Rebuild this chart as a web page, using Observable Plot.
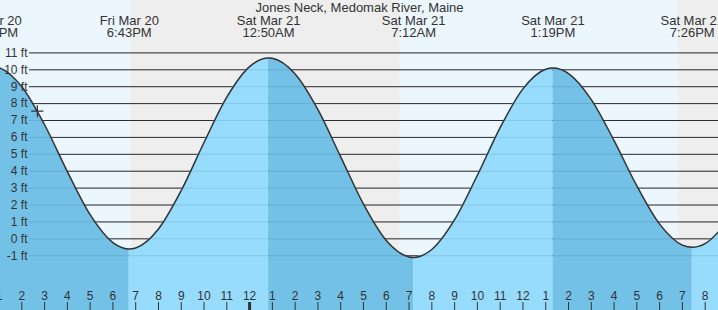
<!DOCTYPE html>
<html><head><meta charset="utf-8">
<script src="https://cdn.jsdelivr.net/npm/d3@7"></script>
<script src="https://cdn.jsdelivr.net/npm/@observablehq/plot@0.6"></script>
<style>html,body{margin:0;padding:0;background:#fff;} #chart{width:718px;height:310px;overflow:hidden}</style>
</head><body><div id="chart"></div>
<script>
// Times are hours since Fri Mar 20 00:00 (local)
const sampleHours   = [13, 14, 15, 16, 17, 18, 19, 20, 21, 22, 23, 24, 25, 26, 27, 28, 29, 30, 31, 32, 33, 34, 35, 36, 37, 38, 39, 40, 41, 42, 43, 44, 45];
const sampleHeights = [10.13, 9.0, 6.75, 3.98, 1.43, -0.22, -0.54, 0.58, 2.86, 5.70, 8.38, 10.19, 10.68, 9.75, 7.64, 4.85, 2.05, -0.10, -1.07, -0.63, 1.13, 3.76, 6.58, 8.87, 10.03, 9.78, 8.24, 5.81, 3.13, 0.87, -0.37, -0.28, 1.08];

const tideHours   = [12.7, 18.717, 24.833, 31.2, 37.317, 43.433];
const tideHeights = [10.2, -0.6, 10.7, -1.1, 10.1, -0.5];
const tideKinds   = ["high", "low", "high", "low", "high", "low"];
const tideDates   = ["Fri Mar 20", "Fri Mar 20", "Sat Mar 21", "Sat Mar 21", "Sat Mar 21", "Sat Mar 21"];
const tideClock   = ["12:42PM", "6:43PM", "12:50AM", "7:12AM", "1:19PM", "7:26PM"];

const sunHours = [18.817, 30.617, 42.833];   // sunset Fri, sunrise Sat, sunset Sat
const footTicks = [-1, 0, 1, 2, 3, 4, 5, 6, 7, 8, 9, 10, 11];
const hourTicks = [13, 14, 15, 16, 17, 18, 19, 20, 21, 22, 23, 24, 25, 26, 27, 28, 29, 30, 31, 32, 33, 34, 35, 36, 37, 38, 39, 40, 41, 42, 43, 44];
const midnightTicks = [24];
const nowHour = [14.683];
const nowHeight = [7.55];
const title = "Jones Neck, Medomak River, Maine";

const xDomain = [13.065, 44.584];
const yDomain = [-4.24, 14.1];

const colors = {day: "#ecf6ff", night: "#eeeeee", falling: "#73c1e6", rising: "#97dcfd", ink: "#333333"};

// points along the curve
const points = sampleHours.map((t, i) => ({t, h: sampleHeights[i]}))
  .concat(tideHours.map((t, i) => ({t, h: tideHeights[i]})))
  .sort((a, b) => a.t - b.t);

// segments between consecutive tides
const segRows = [];
tideHours.forEach((start, i) => {
  const end = i + 1 < tideHours.length ? tideHours[i + 1] : Infinity;
  const fill = tideKinds[i] === "high" ? colors.falling : colors.rising;
  points.filter(p => p.t >= start && p.t <= end).forEach(p => segRows.push({...p, seg: i, fill}));
});

// day / night bands
const bounds = [xDomain[0] - 2, ...sunHours, xDomain[1] + 2];
const bands = bounds.slice(0, -1).map((b, i) => ({x1: b, x2: bounds[i + 1], fill: i % 2 === 0 ? colors.day : colors.night}));

const tides = tideHours.map((t, i) => ({t, date: tideDates[i], clock: tideClock[i]}));
const now = nowHour.map((t, i) => ({t, h: nowHeight[i]}));

const chart = Plot.plot({
  width: 718, height: 310, margin: 0,
  x: {domain: xDomain, axis: null},
  y: {domain: yDomain, axis: null},
  color: {type: "identity"},
  style: {fontFamily: "'Liberation Sans', Arial, sans-serif", fontSize: "12px", color: colors.ink, background: "transparent", overflow: "hidden"},
  marks: [
    Plot.rect(bands, {x1: "x1", x2: "x2", fill: "fill"}),
    Plot.ruleY(footTicks, {y: d => d, stroke: colors.ink, strokeWidth: 1, insetLeft: 29}),
    Plot.areaY(segRows, {x: "t", y1: yDomain[0], y2: "h", z: "seg", fill: "fill", curve: "monotone-x"}),
    Plot.ruleY(footTicks, {y: d => d, stroke: "#000", strokeOpacity: 0.1, strokeWidth: 1, insetLeft: 29}),
    Plot.lineY(points, {x: "t", y: "h", stroke: colors.ink, strokeWidth: 1.5, curve: "monotone-x"}),
    Plot.dot(now, {x: "t", y: "h", symbol: "plus", r: 4, stroke: colors.ink, strokeWidth: 1.2}),
    Plot.text(footTicks, {y: d => d, text: d => `${d} ft`, frameAnchor: "left", dx: 27, textAnchor: "end", lineAnchor: "middle", fontSize: 12, fill: colors.ink}),
    Plot.ruleX(hourTicks, {x: d => d, stroke: colors.ink, strokeWidth: 1, insetTop: 302}),
    Plot.ruleX(midnightTicks, {x: d => d, stroke: colors.ink, strokeWidth: 3, insetTop: 302}),
    Plot.text(hourTicks, {x: d => d, text: d => String(d % 12 || 12), frameAnchor: "bottom", lineAnchor: "top", dy: -19.2, fontSize: 12, fill: colors.ink}),
    Plot.text([title], {text: d => d, frameAnchor: "top", lineAnchor: "top", dy: 2.5, fontSize: 13, fill: colors.ink}),
    Plot.text(tides, {x: "t", text: "date", frameAnchor: "top", lineAnchor: "top", dy: 15.1, fontSize: 13, fill: colors.ink}),
    Plot.text(tides, {x: "t", text: "clock", frameAnchor: "top", lineAnchor: "top", dy: 26.8, fontSize: 13, fill: colors.ink})
  ]
});
document.getElementById("chart").appendChild(chart);
</script>
</body></html>
